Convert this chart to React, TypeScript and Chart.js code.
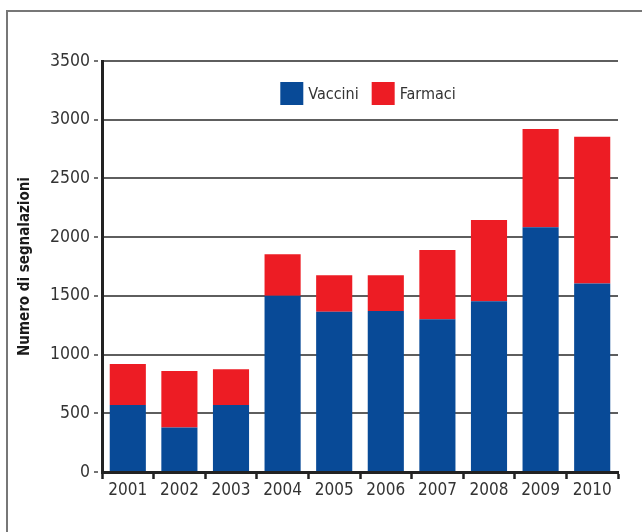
import React, { useEffect, useRef } from "react";
import { Chart, registerables } from "chart.js";

Chart.register(...registerables);

const years = ["2001", "2002", "2003", "2004", "2005", "2006", "2007", "2008", "2009", "2010"];
const vaccini = [570, 380, 570, 1500, 1365, 1370, 1300, 1455, 2085, 1605];
const farmaci = [350, 480, 305, 355, 310, 305, 590, 690, 835, 1250];
const yMin = 0;
const yMax = 3500;
const yStep = 500;
const yTitle = "Numero di segnalazioni";
const seriesNames = ["Vaccini", "Farmaci"];

const FONT = '"DejaVu Sans Condensed", "Liberation Sans Narrow", "DejaVu Sans", sans-serif';
const BLUE = "#084a97";
const RED = "#ed1c24";

const inlineLegend = {
  id: "inlineLegend",
  afterDraw(chart: any) {
    const ctx = chart.ctx as CanvasRenderingContext2D;
    const ds = chart.data.datasets;
    const area = chart.chartArea;
    ctx.save();
    ctx.font = `16px ${FONT}`;
    const box = 23;
    const gapText = 5;
    const gapItem = 13;
    const widths = ds.map((d: any) => box + gapText + ctx.measureText(d.label).width);
    const total = widths.reduce((a: number, b: number) => a + b, 0) + gapItem * (ds.length - 1);
    let x = (area.left + area.right) / 2 + 8 - total / 2;
    const y = area.top + 21;
    ds.forEach((d: any, i: number) => {
      ctx.fillStyle = d.backgroundColor;
      ctx.fillRect(x, y, box, box);
      ctx.fillStyle = "#333";
      ctx.textBaseline = "middle";
      ctx.textAlign = "left";
      ctx.fillText(d.label, x + box + gapText, y + box / 2 + 1);
      x += widths[i] + gapItem;
    });
    ctx.restore();
  },
};

export default function App() {
  const ref = useRef<HTMLCanvasElement | null>(null);

  useEffect(() => {
    if (!ref.current) return;
    const chart = new Chart(ref.current, {
      type: "bar",
      data: {
        labels: years,
        datasets: [
          { label: seriesNames[0], data: vaccini, backgroundColor: BLUE, borderWidth: 0 },
          { label: seriesNames[1], data: farmaci, backgroundColor: RED, borderWidth: 0 },
        ],
      },
      options: {
        animation: false,
        responsive: false,
        maintainAspectRatio: false,
        devicePixelRatio: 1,
        layout: { padding: { top: 61, right: 24, bottom: 0, left: 0 } },
        datasets: { bar: { barPercentage: 0.7, categoryPercentage: 1 } },
        plugins: {
          legend: { display: false },
          tooltip: { enabled: false },
          title: { display: false },
        },
        scales: {
          x: {
            stacked: true,
            afterFit: (s: any) => {
              s.height = 60;
            },
            border: { display: true, color: "#222", width: 3 },
            grid: {
              display: true,
              offset: true,
              drawOnChartArea: false,
              drawTicks: true,
              tickLength: 7,
              tickColor: "#222",
              tickWidth: 2.5,
            },
            ticks: {
              color: "#333",
              font: { family: FONT, size: 17 },
              padding: 1,
              maxRotation: 0,
              autoSkip: false,
            },
          },
          y: {
            stacked: true,
            min: yMin,
            max: yMax,
            afterFit: (s: any) => {
              s.width = 102;
            },
            border: { display: true, color: "#222", width: 3 },
            grid: {
              color: "#5e5e5e",
              lineWidth: 2,
              drawTicks: true,
              tickLength: 8,
              tickColor: "#444",
              tickWidth: 1.5,
              tickBorderDash: [4, 10],
            },
            ticks: {
              stepSize: yStep,
              color: "#333",
              font: { family: FONT, size: 17.5 },
              padding: 4,
              callback: (v: any) => String(v),
            },
            title: {
              display: true,
              text: yTitle,
              color: "#1a1a1a",
              font: { family: FONT, size: 15, weight: "bold" },
              padding: { top: 16, bottom: 0 },
            },
          },
        },
      },
      plugins: [inlineLegend],
    });
    return () => chart.destroy();
  }, []);

  return (
    <div style={{ position: "fixed", left: 0, top: 0, width: 642, height: 532, background: "#fff", overflow: "hidden" }}>
      <div
        style={{
          position: "absolute",
          left: 6,
          top: 10,
          width: 700,
          height: 600,
          border: "2px solid #777",
          boxSizing: "border-box",
        }}
      />
      <canvas ref={ref} width={642} height={532} style={{ position: "absolute", left: 0, top: 0, width: 642, height: 532 }} />
    </div>
  );
}
